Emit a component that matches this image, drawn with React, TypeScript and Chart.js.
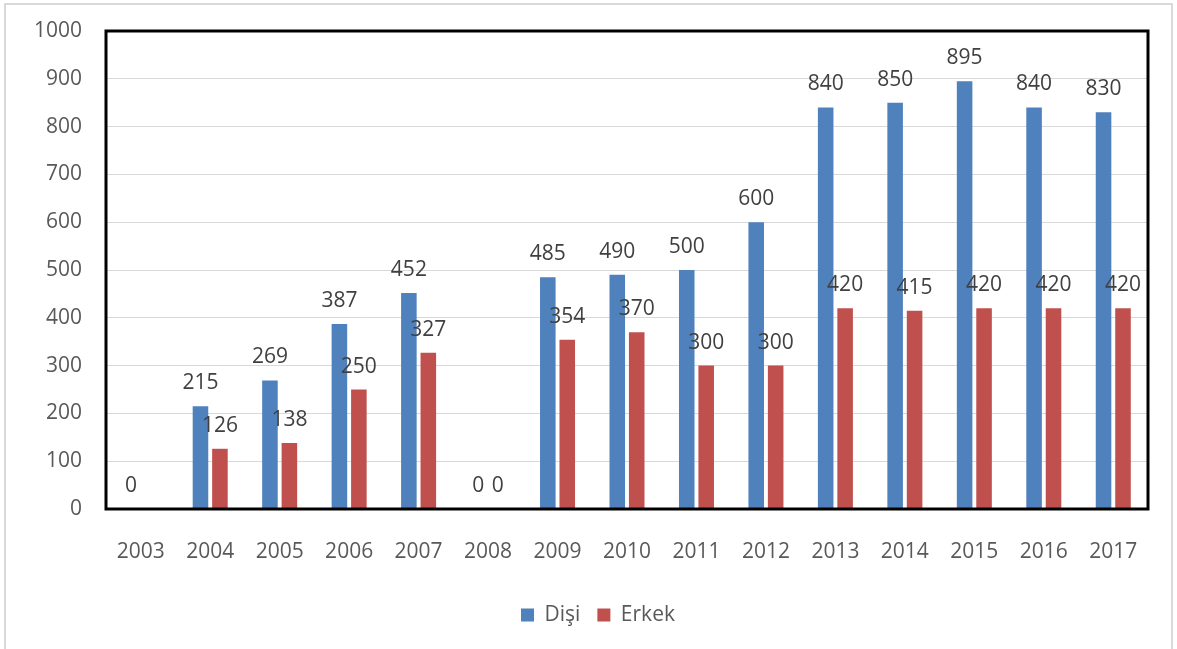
import React, { useEffect, useRef } from "react";
import { Chart, registerables } from "chart.js";

Chart.register(...registerables);

const years = ["2003","2004","2005","2006","2007","2008","2009","2010","2011","2012","2013","2014","2015","2016","2017"];
const disi = [0, 215, 269, 387, 452, 0, 485, 490, 500, 600, 840, 850, 895, 840, 830];
const erkek = [null, 126, 138, 250, 327, 0, 354, 370, 300, 300, 420, 415, 420, 420, 420];

const FONT = "'Open Sans', 'Noto Sans', sans-serif";

const boxPlugin = {
  id: "plotBox",
  afterDatasetsDraw(chart: any) {
    const { ctx, chartArea } = chart;
    ctx.save();
    ctx.strokeStyle = "#000000";
    ctx.lineWidth = 3;
    ctx.strokeRect(chartArea.left, chartArea.top, chartArea.right - chartArea.left, chartArea.bottom - chartArea.top);
    ctx.restore();
  },
};

const legendShift = {
  id: "legendShift",
  afterLayout(chart: any) {
    const lg = chart.legend;
    if (lg) {
      lg.left += 24;
      lg.right += 24;
    }
  },
};

const labelPlugin = {
  id: "valueLabels",
  afterDraw(chart: any) {
    const { ctx } = chart;
    ctx.save();
    ctx.font = `21px ${FONT}`;
    ctx.fillStyle = "#404040";
    ctx.textAlign = "center";
    ctx.textBaseline = "alphabetic";
    chart.data.datasets.forEach((ds: any, di: number) => {
      const meta = chart.getDatasetMeta(di);
      meta.data.forEach((el: any, i: number) => {
        const v = ds.data[i];
        if (v === null || v === undefined) return;
        ctx.fillText(String(v), el.x, el.y - 17);
      });
    });
    ctx.restore();
  },
};

export default function App() {
  const ref = useRef<HTMLCanvasElement | null>(null);
  useEffect(() => {
    if (!ref.current) return;
    const chart = new Chart(ref.current, {
      type: "bar",
      data: {
        labels: years,
        datasets: [
          { label: "Dişi", data: disi, backgroundColor: "#4F81BD", categoryPercentage: 0.56, barPercentage: 0.8 },
          { label: "Erkek", data: erkek as any, backgroundColor: "#C0504D", categoryPercentage: 0.56, barPercentage: 0.8 },
        ],
      },
      options: {
        responsive: false,
        animation: false,
        devicePixelRatio: 1,
        layout: { padding: { top: 31, right: 29, bottom: 13.5, left: 0 } },
        scales: {
          x: {
            grid: { display: false, drawTicks: false },
            border: { display: false },
            ticks: { color: "#595959", font: { family: FONT, size: 21 }, padding: 30, maxRotation: 0, autoSkip: false },
            afterFit: (s: any) => { s.height = 78.5; },
          },
          y: {
            min: 0,
            max: 1000,
            grid: { color: "#d9d9d9", lineWidth: 1, drawTicks: false },
            border: { display: false },
            ticks: {
              stepSize: 100,
              color: "#595959",
              font: { family: FONT, size: 21 },
              padding: 24,
              callback: (v: any) => String(v),
            },
            afterFit: (s: any) => {
              s.width = 106;
              s.paddingTop = 0;
              s.paddingBottom = 0;
            },
          },
        },
        plugins: {
          legend: {
            position: "bottom",
            labels: { color: "#595959", font: { family: FONT, size: 21 }, boxWidth: 13, boxHeight: 13, padding: 17 },
          },
          tooltip: { enabled: false },
        },
      },
      plugins: [boxPlugin, labelPlugin, legendShift],
    });
    return () => chart.destroy();
  }, []);

  return (
    <div style={{ position: "fixed", left: 0, top: 0, width: 1177, height: 649, background: "#ffffff", overflow: "hidden" }}>
      <div style={{ position: "absolute", left: 4, top: 3, width: 1169, height: 700, border: "2px solid #d9d9d9", boxSizing: "border-box" }} />
      <canvas ref={ref} width={1177} height={649} style={{ position: "absolute", left: 0, top: 0, width: 1177, height: 649 }} />
    </div>
  );
}
